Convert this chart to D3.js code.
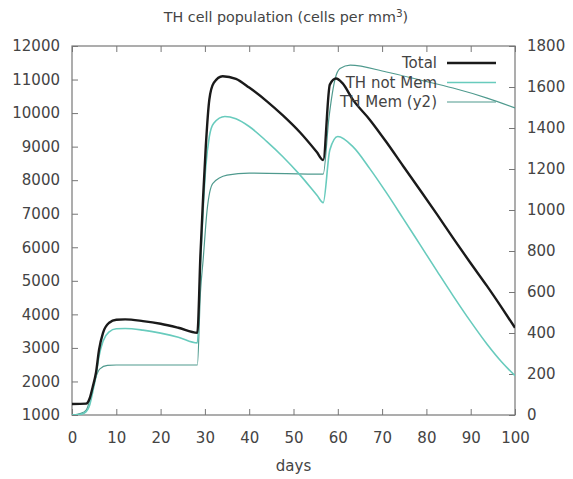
<!DOCTYPE html>
<html>
<head>
<meta charset="utf-8">
<script src="https://cdn.jsdelivr.net/npm/d3@7"></script>
<style>
  body { margin: 0; background: #fff; }
  text { font-family: "DejaVu Sans", sans-serif; fill: #444; }
</style>
</head>
<body>
<svg></svg>
<script>
const size = {w: 573, h: 479};
const margin = {t: 46, r: 58, b: 64, l: 72};

// days / values
const totalDays = [0, 3.2, 4, 4.7, 5.4, 6.1, 7, 8.4, 10, 12, 16, 20, 24, 28.3, 29, 29.6, 30.2, 31, 32, 34, 37, 40, 44, 47.6, 51.5, 55.3, 56.7, 58.2, 59.6, 61, 63.4, 67.3, 71, 74.7, 78.6, 82.4, 86, 89.8, 93.7, 97, 100];
const totalVals = [1330, 1340, 1500, 1850, 2250, 2940, 3450, 3750, 3840, 3850, 3800, 3720, 3600, 3450, 5800, 7500, 9000, 10400, 10900, 11100, 11020, 10760, 10350, 9930, 9420, 8830, 8600, 10850, 11030, 10900, 10400, 9790, 9130, 8430, 7700, 6980, 6280, 5560, 4840, 4200, 3600];

const notMemDays = [0, 2, 3.2, 4, 4.7, 5.4, 6.1, 7, 8.4, 10, 12, 16, 20, 24, 28.3, 29, 29.6, 30.2, 31, 32, 34.5, 37, 40, 44, 47.6, 51.5, 55.3, 56.7, 58.2, 60, 63.4, 67.3, 71, 74.7, 78.6, 82.4, 86, 89.8, 93.7, 97, 100];
const notMemVals = [1000, 1020, 1100, 1300, 1700, 2150, 2750, 3200, 3480, 3570, 3580, 3530, 3440, 3320, 3150, 5500, 7100, 8400, 9300, 9700, 9900, 9830, 9600, 9150, 8700, 8150, 7550, 7330, 8900, 9300, 9000, 8330, 7620, 6870, 6070, 5290, 4560, 3820, 3110, 2580, 2170];

const memDays = [0, 2, 3.2, 4.6, 5.4, 6.3, 8, 10, 28.3, 29, 29.6, 30.5, 31.8, 35, 40, 56.7, 58, 59.4, 60.5, 62.8, 71, 78.6, 86, 93.7, 100];
const memVals = [0, 8, 24, 120, 185, 225, 242, 244, 244, 600, 756, 1000, 1130, 1170, 1180, 1175, 1450, 1640, 1690, 1707, 1673, 1634, 1595, 1546, 1498];

const xTicks = d3.range(0, 101, 10);
const yTicks = d3.range(1000, 12001, 1000);
const y2Ticks = d3.range(0, 1801, 200);

const series = [
    {name: 'Total', days: totalDays, vals: totalVals, axis: 'y', color: '#1a1a1a', width: 2.4},
    {name: 'TH not Mem', days: notMemDays, vals: notMemVals, axis: 'y', color: '#68cbbd', width: 1.6},
    {name: 'TH Mem (y2)', days: memDays, vals: memVals, axis: 'y2', color: '#4f9a8e', width: 1.2}
];

const svg = d3.select('svg')
    .attr('width', size.w)
    .attr('height', size.h);

const x = d3.scaleLinear().domain([0, 100]).range([margin.l, size.w - margin.r]);
const y = d3.scaleLinear().domain([1000, 12000]).range([size.h - margin.b, margin.t]);
const y2 = d3.scaleLinear().domain([0, 1800]).range([size.h - margin.b, margin.t]);
const scales = {y: y, y2: y2};

svg.append('clipPath').attr('id', 'plot')
    .append('rect')
    .attr('x', margin.l).attr('y', margin.t)
    .attr('width', x.range()[1] - margin.l)
    .attr('height', y.range()[0] - margin.t);

// axes, gnuplot style: ticks inward
const tick = 6;
const axisStyle = g => {
    g.select('.domain').remove();
    g.selectAll('line').attr('stroke', '#777');
    g.selectAll('text').style('font-size', '15px').attr('fill', '#444');
};

svg.append('g')
    .attr('transform', `translate(0,${y.range()[0]})`)
    .call(d3.axisBottom(x).tickValues(xTicks).tickSize(-tick).tickPadding(17))
    .call(axisStyle);
svg.append('g')
    .attr('transform', `translate(0,${margin.t})`)
    .call(d3.axisTop(x).tickValues(xTicks).tickSize(-tick).tickFormat(''))
    .call(axisStyle);
svg.append('g')
    .attr('transform', `translate(${margin.l},0)`)
    .call(d3.axisLeft(y).tickValues(yTicks).tickSize(-tick).tickPadding(12).tickFormat(d3.format('d')))
    .call(axisStyle);
svg.append('g')
    .attr('transform', `translate(${x.range()[1]},0)`)
    .call(d3.axisRight(y2).tickValues(y2Ticks).tickSize(-tick).tickPadding(12).tickFormat(d3.format('d')))
    .call(axisStyle);

svg.append('rect')
    .attr('x', margin.l).attr('y', margin.t)
    .attr('width', x.range()[1] - margin.l)
    .attr('height', y.range()[0] - margin.t)
    .attr('fill', 'none')
    .attr('stroke', '#777')
    .attr('stroke-width', 1.2);

// lines
const linesG = svg.append('g').attr('clip-path', 'url(#plot)');
series.slice().reverse().forEach(s => {
    const sc = scales[s.axis];
    const line = d3.line()
        .x(i => x(s.days[i]))
        .y(i => sc(s.vals[i]))
        .curve(d3.curveMonotoneX);
    linesG.append('path')
        .attr('d', line(d3.range(s.days.length)))
        .attr('fill', 'none')
        .attr('stroke', s.color)
        .attr('stroke-width', s.width)
        .attr('stroke-linejoin', 'round');
});

// legend
const legend = svg.append('g');
series.forEach((s, i) => {
    const ly = 63 + i * 19.5;
    legend.append('text')
        .attr('x', 437).attr('y', ly)
        .attr('dy', '0.35em')
        .attr('text-anchor', 'end')
        .style('font-size', '15px')
        .text(s.name);
    legend.append('line')
        .attr('x1', 447).attr('x2', 496)
        .attr('y1', ly).attr('y2', ly)
        .attr('stroke', s.color)
        .attr('stroke-width', s.width);
});

// title and x label
const title = svg.append('text')
    .attr('x', 286).attr('y', 22)
    .attr('text-anchor', 'middle')
    .style('font-size', '14.3px');
title.append('tspan').text('TH cell population (cells per mm');
title.append('tspan').attr('dy', -5).style('font-size', '10.5px').text('3');
title.append('tspan').attr('dy', 5).text(')');

svg.append('text')
    .attr('x', (margin.l + x.range()[1]) / 2).attr('y', 471)
    .attr('text-anchor', 'middle')
    .style('font-size', '15px')
    .text('days');
</script>
</body>
</html>
